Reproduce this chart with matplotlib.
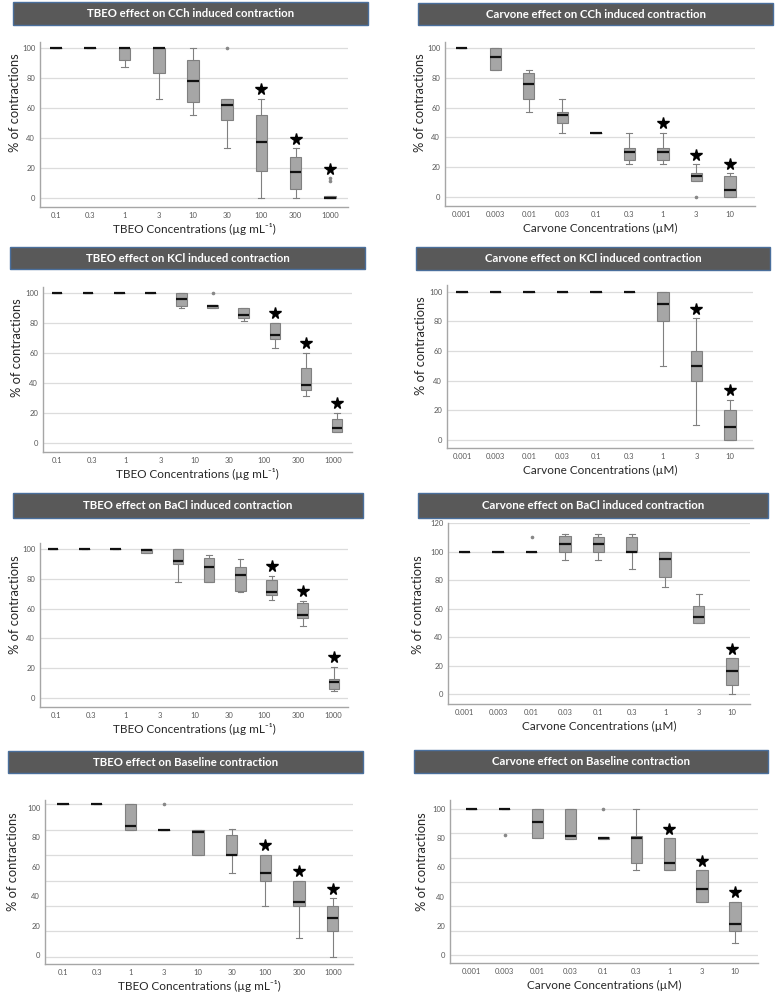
import numpy as np
import matplotlib
matplotlib.use("Agg")
import matplotlib.pyplot as plt
from matplotlib.patches import Rectangle

plt.rcParams['font.family'] = ['Lato', 'DejaVu Sans']

W, H = 780, 996

tbeo_labels = ['0.1', '0.3', '1', '3', '10', '30', '100', '300', '1000']
carv_labels = ['0.001', '0.003', '0.01', '0.03', '0.1', '0.3', '1', '3', '10']
tbeo_xlabel = 'TBEO Concentrations (\u00b5g mL\u207b\u00b9)'
carv_xlabel = 'Carvone Concentrations (\u00b5M)'

# ---- TBEO / CCh
cch_t_lo  = [100, 100, 87, 66, 55, 33, 0, 0, 0]
cch_t_q1  = [100, 100, 92, 83, 64, 52, 18, 6, 0]
cch_t_med = [100, 100, 100, 100, 78, 62, 37, 17, 0]
cch_t_q3  = [100, 100, 100, 100, 92, 66, 55, 27, 1]
cch_t_hi  = [100, 100, 100, 100, 100, 66, 66, 33, 1]
cch_t_fl  = [[], [], [], [], [], [100], [], [], [11, 13]]
cch_t_sig = [6, 7, 8]

# ---- Carvone / CCh
cch_c_lo  = [100, 85, 57, 43, 43, 22, 22, 11, 0]
cch_c_q1  = [100, 85, 66, 50, 43, 25, 25, 11, 0]
cch_c_med = [100, 94, 76, 55, 43, 30, 30, 14, 5]
cch_c_q3  = [100, 100, 83, 57, 43, 33, 33, 16, 14]
cch_c_hi  = [100, 100, 85, 66, 43, 43, 43, 22, 16]
cch_c_fl  = [[], [], [], [], [], [], [], [0], []]
cch_c_sig = [6, 7, 8]

# ---- TBEO / KCl (10 boxes drawn against 9 labels)
kcl_t_lo  = [100, 100, 100, 100, 90, 90, 81, 63, 31, 7]
kcl_t_q1  = [100, 100, 100, 100, 91, 90, 83.5, 69, 35, 7]
kcl_t_med = [100, 100, 100, 100, 96, 91, 85, 72, 38.5, 9.5]
kcl_t_q3  = [100, 100, 100, 100, 100, 92, 90, 80, 50, 16]
kcl_t_hi  = [100, 100, 100, 100, 100, 92, 90, 80, 60, 20]
kcl_t_fl  = [[], [], [], [], [], [100], [], [], [], []]
kcl_t_sig = [7, 8, 9]

# ---- Carvone / KCl
kcl_c_lo  = [100, 100, 100, 100, 100, 100, 50, 10, 0]
kcl_c_q1  = [100, 100, 100, 100, 100, 100, 80, 40, 0]
kcl_c_med = [100, 100, 100, 100, 100, 100, 92, 50, 9]
kcl_c_q3  = [100, 100, 100, 100, 100, 100, 100, 60, 20]
kcl_c_hi  = [100, 100, 100, 100, 100, 100, 100, 82, 27]
kcl_c_fl  = [[] for _ in range(9)]
kcl_c_sig = [7, 8]

# ---- TBEO / BaCl (10 boxes drawn against 9 labels)
ba_t_lo  = [100, 100, 100, 97, 78, 78, 71, 66, 48, 5]
ba_t_q1  = [100, 100, 100, 97, 90, 78, 72, 69, 54, 6]
ba_t_med = [100, 100, 100, 99, 92, 88, 82.5, 71, 55.5, 11]
ba_t_q3  = [100, 100, 100, 100, 100, 94, 88, 79, 64, 13]
ba_t_hi  = [100, 100, 100, 100, 100, 96, 93, 82, 65, 21]
ba_t_fl  = [[] for _ in range(10)]
ba_t_sig = [7, 8, 9]

# ---- Carvone / BaCl
ba_c_lo  = [100, 100, 100, 94, 94, 88, 75, 50, 0]
ba_c_q1  = [100, 100, 100, 100, 100, 100, 82, 50, 6]
ba_c_med = [100, 100, 100, 105, 105, 100, 95, 54, 16]
ba_c_q3  = [100, 100, 100, 111, 110, 110, 100, 62, 25]
ba_c_hi  = [100, 100, 100, 112, 112, 112, 100, 70, 25]
ba_c_fl  = [[], [], [110], [], [], [], [], [], []]
ba_c_sig = [8]

# ---- TBEO / Baseline
bl_t_lo  = [102.7, 102.7, 85.2, 85.2, 68.2, 56, 33.4, 11.4, -1]
bl_t_q1  = [102.7, 102.7, 85.2, 85.2, 68.2, 68.2, 50.7, 33.4, 16.4]
bl_t_med = [102.7, 102.7, 88, 85.2, 83.6, 68.2, 56, 36, 25]
bl_t_q3  = [102.7, 102.7, 102.7, 85.2, 85.2, 81.8, 68.2, 50.7, 33.4]
bl_t_hi  = [102.7, 102.7, 102.7, 85.2, 85.2, 85.7, 68.2, 50.7, 38.6]
bl_t_fl  = [[], [], [], [102.7], [], [], [], [], []]
bl_t_sig = [6, 7, 8]
bl_t_grid = [-1, 16.4, 33.4, 50.7, 68.2, 85.2, 102.7]

# ---- Carvone / Baseline
bl_c_lo  = [100, 100, 80, 79.5, 79.5, 58.4, 58, 36.4, 8.4]
bl_c_q1  = [100, 100, 80, 79.5, 79.5, 63, 58, 36.4, 16.4]
bl_c_med = [100, 100, 91, 81.4, 80.2, 80, 63.2, 45, 21]
bl_c_q3  = [100, 100, 100, 100, 80.7, 81.4, 80, 58, 36.4]
bl_c_hi  = [100, 100, 100, 100, 80.7, 100, 80, 58, 36.4]
bl_c_fl  = [[], [82], [], [], [100], [], [], [], []]
bl_c_sig = [6, 7, 8]
bl_c_grid = [0, 16.6, 33.3, 50, 66.6, 83.3, 100]

BOX_FILL = '#a6a6a6'
BOX_EDGE = '#808080'
GRID = '#dcdcdc'
SPINE = '#a6a6a6'
TICK = '#595959'


def fig_rect(x0, y0, x1, y1):
    return [x0 / W, 1 - y1 / H, (x1 - x0) / W, (y1 - y0) / H]


def title_bar(x0, y0, x1, y1, text):
    r = Rectangle((x0 / W, 1 - y1 / H), (x1 - x0) / W, (y1 - y0) / H,
                  transform=fig.transFigure, facecolor='#595959',
                  edgecolor='#4a6f9c', linewidth=1.0)
    fig.patches.append(r)
    fig.text((x0 + x1) / 2 / W, 1 - (y0 + y1) / 2 / H, text, color='white',
             fontsize=8.2, fontweight='bold', ha='center', va='center')


def panel(rect, bar, title, labels, lo, q1, med, q3, hi, fl, sig, xlabel,
          xlim, ylim, yticks, ylab_xy, grid=None, tickpos=None):
    ax = fig.add_axes(fig_rect(*rect))
    title_bar(*bar, title)
    stats = []
    for i in range(len(med)):
        stats.append(dict(whislo=lo[i], q1=q1[i], med=med[i], q3=q3[i],
                          whishi=hi[i], fliers=fl[i]))
    pos = np.arange(len(med))
    ax.bxp(stats, positions=pos, widths=0.34, patch_artist=True,
           showfliers=True,
           boxprops=dict(facecolor=BOX_FILL, edgecolor=BOX_EDGE, linewidth=0.8),
           whiskerprops=dict(color=BOX_EDGE, linewidth=0.8),
           capprops=dict(color=BOX_EDGE, linewidth=0.8),
           medianprops=dict(color='#111111', linewidth=1.6),
           flierprops=dict(marker='o', markersize=1.6, markerfacecolor='#888888',
                           markeredgecolor='#888888'),
           capwidths=0.18)
    for i in sig:
        top = max([hi[i]] + list(fl[i]))
        ax.plot(i, top + 6.5, marker='*', color='black', markersize=8.5)
    if tickpos is None:
        tickpos = pos
    ax.set_xticks(tickpos)
    ax.set_xticklabels(labels, fontsize=5.5, color=TICK)
    ax.set_yticks(yticks)
    ax.set_yticklabels([str(v) for v in yticks], fontsize=5.5, color=TICK)
    ax.tick_params(length=0, pad=3.5)
    if grid is None:
        grid = yticks
    for g in grid:
        ax.axhline(g, color=GRID, linewidth=0.9, zorder=0)
    ax.set_xlim(*xlim)
    ax.set_ylim(*ylim)
    for s in ['top', 'right']:
        ax.spines[s].set_visible(False)
    for s in ['left', 'bottom']:
        ax.spines[s].set_color(SPINE)
        ax.spines[s].set_linewidth(1.0)
    h = rect[3] - rect[1]
    w = rect[2] - rect[0]
    ax.set_ylabel('% of contractions', fontsize=9.3, color='#262626')
    ax.yaxis.set_label_coords((ylab_xy[0] - rect[0]) / w, (rect[3] - ylab_xy[1]) / h)
    ax.yaxis.label.set_va('center')
    ax.set_xlabel(xlabel, fontsize=8.5, color='#262626')
    ax.xaxis.set_label_coords(0.5, -22 / h)
    ax.xaxis.label.set_va('center')
    return ax


fig = plt.figure(figsize=(7.8, 9.96), dpi=100)
fig.patch.set_facecolor('white')

t20 = [0, 20, 40, 60, 80, 100]

panel((40, 42, 348, 207), (13, 2, 368, 25), 'TBEO effect on CCh induced contraction',
      tbeo_labels, cch_t_lo, cch_t_q1, cch_t_med, cch_t_q3, cch_t_hi, cch_t_fl,
      cch_t_sig, tbeo_xlabel, (-0.47, 8.53), (-6, 104), t20, (15, 103))

panel((445, 42, 755, 206), (418, 3, 773, 25), 'Carvone effect on CCh induced contraction',
      carv_labels, cch_c_lo, cch_c_q1, cch_c_med, cch_c_q3, cch_c_hi, cch_c_fl,
      cch_c_sig, carv_xlabel, (-0.5, 8.75), (-6, 104), t20, (420, 103))

panel((43, 287, 352, 452), (10, 247, 365, 269), 'TBEO effect on KCl induced contraction',
      tbeo_labels, kcl_t_lo, kcl_t_q1, kcl_t_med, kcl_t_q3, kcl_t_hi, kcl_t_fl,
      kcl_t_sig, tbeo_xlabel, (-0.45, 9.48), (-6.2, 104), t20, (17, 348),
      tickpos=np.linspace(0, 8.87, 9))

panel((447, 285, 753, 448), (416, 247, 770, 270), 'Carvone effect on KCl induced contraction',
      carv_labels, kcl_c_lo, kcl_c_q1, kcl_c_med, kcl_c_q3, kcl_c_hi, kcl_c_fl,
      kcl_c_sig, carv_xlabel, (-0.45, 8.69), (-5.4, 104.5), t20, (421, 346))

panel((40, 543, 348, 707), (13, 493, 363, 518), 'TBEO effect on BaCl induced contraction',
      tbeo_labels, ba_t_lo, ba_t_q1, ba_t_med, ba_t_q3, ba_t_hi, ba_t_fl,
      ba_t_sig, tbeo_xlabel, (-0.42, 9.45), (-6, 104), t20, (15, 605),
      tickpos=np.linspace(0.1, 8.97, 9))

panel((448, 523, 750, 704), (418, 493, 768, 518), 'Carvone effect on BaCl induced contraction',
      carv_labels, ba_c_lo, ba_c_q1, ba_c_med, ba_c_q3, ba_c_hi, ba_c_fl,
      ba_c_sig, carv_xlabel, (-0.5, 8.54), (-7, 120), [0, 20, 40, 60, 80, 100, 120],
      (418, 605))

panel((45, 800, 353, 964), (8, 751, 363, 773), 'TBEO effect on Baseline contraction',
      tbeo_labels, bl_t_lo, bl_t_q1, bl_t_med, bl_t_q3, bl_t_hi, bl_t_fl,
      bl_t_sig, tbeo_xlabel, (-0.53, 8.6), (-6, 105.4), t20, (13, 862), grid=bl_t_grid)

panel((450, 800, 758, 963), (414, 750, 768, 773), 'Carvone effect on Baseline contraction',
      carv_labels, bl_c_lo, bl_c_q1, bl_c_med, bl_c_q3, bl_c_hi, bl_c_fl,
      bl_c_sig, carv_xlabel, (-0.66, 8.7), (-5.4, 106), t20, (422, 862), grid=bl_c_grid)

fig.savefig('out.png', dpi=100)
